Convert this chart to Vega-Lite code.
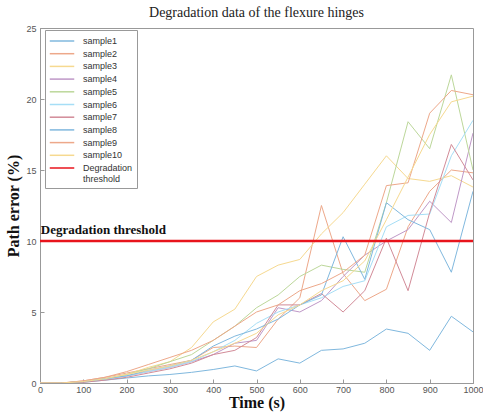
{
  "$schema": "https://vega.github.io/schema/vega-lite/v6.json",
  "autosize": "none",
  "padding": {"left": 40, "top": 28, "right": 10, "bottom": 36},
  "width": 433,
  "height": 355,
  "background": "white",
  "title": {"text": "Degradation data of the flexure hinges", "font": "Liberation Serif", "fontSize": 14, "fontWeight": "normal", "color": "#222", "offset": 4, "anchor": "middle"},
  "config": {
    "view": {"stroke": "#999", "strokeWidth": 1},
    "axis": {"labelFont": "Liberation Sans", "labelFontSize": 9, "labelColor": "#555", "domainColor": "#999", "tickColor": "#999", "grid": false, "titleFont": "Liberation Serif", "titleFontSize": 16, "titleFontWeight": "bold", "titleColor": "#111"}
  },
  "datasets": {
    "curves": [
      {"series": "sample1", "t": 0, "v": 0}, {"series": "sample1", "t": 50, "v": 0}, {"series": "sample1", "t": 100, "v": 0.05}, {"series": "sample1", "t": 150, "v": 0.2}, {"series": "sample1", "t": 200, "v": 0.35}, {"series": "sample1", "t": 250, "v": 0.5}, {"series": "sample1", "t": 300, "v": 0.6}, {"series": "sample1", "t": 350, "v": 0.75}, {"series": "sample1", "t": 400, "v": 0.95}, {"series": "sample1", "t": 450, "v": 1.2}, {"series": "sample1", "t": 500, "v": 0.85}, {"series": "sample1", "t": 550, "v": 1.7}, {"series": "sample1", "t": 600, "v": 1.4}, {"series": "sample1", "t": 650, "v": 2.3}, {"series": "sample1", "t": 700, "v": 2.4}, {"series": "sample1", "t": 750, "v": 2.8}, {"series": "sample1", "t": 800, "v": 3.8}, {"series": "sample1", "t": 850, "v": 3.5}, {"series": "sample1", "t": 900, "v": 2.3}, {"series": "sample1", "t": 950, "v": 4.7}, {"series": "sample1", "t": 1000, "v": 3.6},
      {"series": "sample2", "t": 0, "v": 0}, {"series": "sample2", "t": 50, "v": 0}, {"series": "sample2", "t": 100, "v": 0.15}, {"series": "sample2", "t": 150, "v": 0.4}, {"series": "sample2", "t": 200, "v": 0.7}, {"series": "sample2", "t": 250, "v": 1.0}, {"series": "sample2", "t": 300, "v": 1.3}, {"series": "sample2", "t": 350, "v": 1.6}, {"series": "sample2", "t": 400, "v": 2.5}, {"series": "sample2", "t": 450, "v": 2.6}, {"series": "sample2", "t": 500, "v": 2.5}, {"series": "sample2", "t": 550, "v": 4.5}, {"series": "sample2", "t": 600, "v": 6.0}, {"series": "sample2", "t": 650, "v": 12.5}, {"series": "sample2", "t": 700, "v": 7.7}, {"series": "sample2", "t": 750, "v": 5.8}, {"series": "sample2", "t": 800, "v": 6.6}, {"series": "sample2", "t": 850, "v": 11.0}, {"series": "sample2", "t": 900, "v": 13.5}, {"series": "sample2", "t": 950, "v": 15.0}, {"series": "sample2", "t": 1000, "v": 14.8},
      {"series": "sample3", "t": 0, "v": 0}, {"series": "sample3", "t": 50, "v": 0}, {"series": "sample3", "t": 100, "v": 0.1}, {"series": "sample3", "t": 150, "v": 0.3}, {"series": "sample3", "t": 200, "v": 0.6}, {"series": "sample3", "t": 250, "v": 1.1}, {"series": "sample3", "t": 300, "v": 1.5}, {"series": "sample3", "t": 350, "v": 2.5}, {"series": "sample3", "t": 400, "v": 4.3}, {"series": "sample3", "t": 450, "v": 5.2}, {"series": "sample3", "t": 500, "v": 7.5}, {"series": "sample3", "t": 550, "v": 8.3}, {"series": "sample3", "t": 600, "v": 8.7}, {"series": "sample3", "t": 650, "v": 10.5}, {"series": "sample3", "t": 700, "v": 12.0}, {"series": "sample3", "t": 750, "v": 14.0}, {"series": "sample3", "t": 800, "v": 16.0}, {"series": "sample3", "t": 850, "v": 14.4}, {"series": "sample3", "t": 900, "v": 14.2}, {"series": "sample3", "t": 950, "v": 14.6}, {"series": "sample3", "t": 1000, "v": 13.8},
      {"series": "sample4", "t": 0, "v": 0}, {"series": "sample4", "t": 50, "v": 0}, {"series": "sample4", "t": 100, "v": 0.1}, {"series": "sample4", "t": 150, "v": 0.3}, {"series": "sample4", "t": 200, "v": 0.5}, {"series": "sample4", "t": 250, "v": 0.8}, {"series": "sample4", "t": 300, "v": 1.1}, {"series": "sample4", "t": 350, "v": 1.5}, {"series": "sample4", "t": 400, "v": 2.0}, {"series": "sample4", "t": 450, "v": 2.8}, {"series": "sample4", "t": 500, "v": 3.0}, {"series": "sample4", "t": 550, "v": 5.3}, {"series": "sample4", "t": 600, "v": 5.0}, {"series": "sample4", "t": 650, "v": 5.8}, {"series": "sample4", "t": 700, "v": 7.5}, {"series": "sample4", "t": 750, "v": 9.0}, {"series": "sample4", "t": 800, "v": 10.0}, {"series": "sample4", "t": 850, "v": 10.8}, {"series": "sample4", "t": 900, "v": 12.8}, {"series": "sample4", "t": 950, "v": 11.3}, {"series": "sample4", "t": 1000, "v": 17.6},
      {"series": "sample5", "t": 0, "v": 0}, {"series": "sample5", "t": 50, "v": 0}, {"series": "sample5", "t": 100, "v": 0.1}, {"series": "sample5", "t": 150, "v": 0.3}, {"series": "sample5", "t": 200, "v": 0.6}, {"series": "sample5", "t": 250, "v": 1.0}, {"series": "sample5", "t": 300, "v": 1.5}, {"series": "sample5", "t": 350, "v": 2.0}, {"series": "sample5", "t": 400, "v": 3.0}, {"series": "sample5", "t": 450, "v": 4.0}, {"series": "sample5", "t": 500, "v": 5.3}, {"series": "sample5", "t": 550, "v": 6.2}, {"series": "sample5", "t": 600, "v": 7.5}, {"series": "sample5", "t": 650, "v": 8.3}, {"series": "sample5", "t": 700, "v": 8.0}, {"series": "sample5", "t": 750, "v": 7.8}, {"series": "sample5", "t": 800, "v": 12.7}, {"series": "sample5", "t": 850, "v": 18.4}, {"series": "sample5", "t": 900, "v": 16.5}, {"series": "sample5", "t": 950, "v": 21.7}, {"series": "sample5", "t": 1000, "v": 15.0},
      {"series": "sample6", "t": 0, "v": 0}, {"series": "sample6", "t": 50, "v": 0}, {"series": "sample6", "t": 100, "v": 0.1}, {"series": "sample6", "t": 150, "v": 0.25}, {"series": "sample6", "t": 200, "v": 0.5}, {"series": "sample6", "t": 250, "v": 0.8}, {"series": "sample6", "t": 300, "v": 1.1}, {"series": "sample6", "t": 350, "v": 1.5}, {"series": "sample6", "t": 400, "v": 2.2}, {"series": "sample6", "t": 450, "v": 3.0}, {"series": "sample6", "t": 500, "v": 4.2}, {"series": "sample6", "t": 550, "v": 5.0}, {"series": "sample6", "t": 600, "v": 5.5}, {"series": "sample6", "t": 650, "v": 6.0}, {"series": "sample6", "t": 700, "v": 6.8}, {"series": "sample6", "t": 750, "v": 7.2}, {"series": "sample6", "t": 800, "v": 11.0}, {"series": "sample6", "t": 850, "v": 11.8}, {"series": "sample6", "t": 900, "v": 11.9}, {"series": "sample6", "t": 950, "v": 16.0}, {"series": "sample6", "t": 1000, "v": 18.5},
      {"series": "sample7", "t": 0, "v": 0}, {"series": "sample7", "t": 50, "v": 0}, {"series": "sample7", "t": 100, "v": 0.05}, {"series": "sample7", "t": 150, "v": 0.2}, {"series": "sample7", "t": 200, "v": 0.4}, {"series": "sample7", "t": 250, "v": 0.7}, {"series": "sample7", "t": 300, "v": 1.0}, {"series": "sample7", "t": 350, "v": 1.4}, {"series": "sample7", "t": 400, "v": 2.0}, {"series": "sample7", "t": 450, "v": 2.3}, {"series": "sample7", "t": 500, "v": 3.2}, {"series": "sample7", "t": 550, "v": 5.5}, {"series": "sample7", "t": 600, "v": 5.5}, {"series": "sample7", "t": 650, "v": 6.3}, {"series": "sample7", "t": 700, "v": 5.0}, {"series": "sample7", "t": 750, "v": 6.5}, {"series": "sample7", "t": 800, "v": 10.2}, {"series": "sample7", "t": 850, "v": 6.5}, {"series": "sample7", "t": 900, "v": 12.0}, {"series": "sample7", "t": 950, "v": 16.8}, {"series": "sample7", "t": 1000, "v": 14.3},
      {"series": "sample8", "t": 0, "v": 0}, {"series": "sample8", "t": 50, "v": 0}, {"series": "sample8", "t": 100, "v": 0.1}, {"series": "sample8", "t": 150, "v": 0.3}, {"series": "sample8", "t": 200, "v": 0.5}, {"series": "sample8", "t": 250, "v": 0.9}, {"series": "sample8", "t": 300, "v": 1.2}, {"series": "sample8", "t": 350, "v": 1.6}, {"series": "sample8", "t": 400, "v": 2.6}, {"series": "sample8", "t": 450, "v": 3.3}, {"series": "sample8", "t": 500, "v": 3.8}, {"series": "sample8", "t": 550, "v": 4.5}, {"series": "sample8", "t": 600, "v": 5.5}, {"series": "sample8", "t": 650, "v": 6.2}, {"series": "sample8", "t": 700, "v": 10.3}, {"series": "sample8", "t": 750, "v": 7.3}, {"series": "sample8", "t": 800, "v": 12.7}, {"series": "sample8", "t": 850, "v": 11.5}, {"series": "sample8", "t": 900, "v": 10.8}, {"series": "sample8", "t": 950, "v": 7.8}, {"series": "sample8", "t": 1000, "v": 13.5},
      {"series": "sample9", "t": 0, "v": 0}, {"series": "sample9", "t": 50, "v": 0}, {"series": "sample9", "t": 100, "v": 0.15}, {"series": "sample9", "t": 150, "v": 0.4}, {"series": "sample9", "t": 200, "v": 0.8}, {"series": "sample9", "t": 250, "v": 1.3}, {"series": "sample9", "t": 300, "v": 1.8}, {"series": "sample9", "t": 350, "v": 2.3}, {"series": "sample9", "t": 400, "v": 3.0}, {"series": "sample9", "t": 450, "v": 4.0}, {"series": "sample9", "t": 500, "v": 5.0}, {"series": "sample9", "t": 550, "v": 5.5}, {"series": "sample9", "t": 600, "v": 6.5}, {"series": "sample9", "t": 650, "v": 7.0}, {"series": "sample9", "t": 700, "v": 7.8}, {"series": "sample9", "t": 750, "v": 9.0}, {"series": "sample9", "t": 800, "v": 13.9}, {"series": "sample9", "t": 850, "v": 14.1}, {"series": "sample9", "t": 900, "v": 19.0}, {"series": "sample9", "t": 950, "v": 20.6}, {"series": "sample9", "t": 1000, "v": 20.3},
      {"series": "sample10", "t": 0, "v": 0}, {"series": "sample10", "t": 50, "v": 0}, {"series": "sample10", "t": 100, "v": 0.1}, {"series": "sample10", "t": 150, "v": 0.3}, {"series": "sample10", "t": 200, "v": 0.6}, {"series": "sample10", "t": 250, "v": 0.9}, {"series": "sample10", "t": 300, "v": 1.2}, {"series": "sample10", "t": 350, "v": 1.6}, {"series": "sample10", "t": 400, "v": 2.2}, {"series": "sample10", "t": 450, "v": 2.8}, {"series": "sample10", "t": 500, "v": 3.5}, {"series": "sample10", "t": 550, "v": 4.8}, {"series": "sample10", "t": 600, "v": 5.5}, {"series": "sample10", "t": 650, "v": 6.5}, {"series": "sample10", "t": 700, "v": 7.2}, {"series": "sample10", "t": 750, "v": 8.6}, {"series": "sample10", "t": 800, "v": 11.5}, {"series": "sample10", "t": 850, "v": 14.5}, {"series": "sample10", "t": 900, "v": 17.5}, {"series": "sample10", "t": 950, "v": 19.8}, {"series": "sample10", "t": 1000, "v": 20.2},
      {"series": "Degradation threshold", "t": 0, "v": 10}, {"series": "Degradation threshold", "t": 1000, "v": 10}
    ],
    "label": [{"t": 2, "v": 10, "text": "Degradation threshold"}]
  },
  "layer": [
    {
      "data": {"name": "curves"},
      "mark": {"type": "line", "clip": true},
      "encoding": {
        "x": {"field": "t", "type": "quantitative", "scale": {"domain": [0, 1000], "nice": false}, "axis": {"values": [0,100,200,300,400,500,600,700,800,900,1000], "format": "d", "tickSize": -4, "title": "Time (s)", "titlePadding": 0, "labelPadding": 6, "labelFlush": false}},
        "y": {"field": "v", "type": "quantitative", "scale": {"domain": [0, 25], "nice": false}, "axis": {"values": [0,5,10,15,20,25], "tickSize": -4, "title": "Path error (%)", "titlePadding": 4, "labelPadding": 8}},
        "color": {"field": "series", "type": "nominal",
          "scale": {"domain": ["sample1","sample2","sample3","sample4","sample5","sample6","sample7","sample8","sample9","sample10","Degradation threshold"],
                    "range": ["#80b8de","#eda88a","#f6d990","#bf98c7","#bcd79a","#a6def6","#d28b98","#80b8de","#eda88a","#f6d990","#e8141c"]},
          "legend": {"title": null, "orient": "none", "legendX": 5, "legendY": 2, "symbolType": "M-2,0H2", "symbolSize": 150, "symbolStrokeWidth": 1.5, "symbolOffset": 6, "labelFont": "Liberation Sans", "labelFontSize": 9, "labelColor": "#333", "rowPadding": 0.7, "labelOffset": 14, "strokeColor": "#999", "fillColor": "white", "padding": 4, "labelExpr": "datum.label == 'Degradation threshold' ? ['Degradation', 'threshold'] : datum.label"}},
        "strokeWidth": {"condition": {"test": "datum.series == 'Degradation threshold'", "value": 2.5}, "value": 1},
        "order": {"field": "t", "type": "quantitative"}
      }
    },
    {
      "data": {"name": "label"},
      "mark": {"type": "text", "align": "left", "baseline": "bottom", "dy": -4, "font": "Liberation Serif", "fontSize": 13, "fontWeight": "bold", "color": "#111"},
      "encoding": {
        "x": {"field": "t", "type": "quantitative"},
        "y": {"field": "v", "type": "quantitative"},
        "text": {"field": "text"}
      }
    }
  ]
}
